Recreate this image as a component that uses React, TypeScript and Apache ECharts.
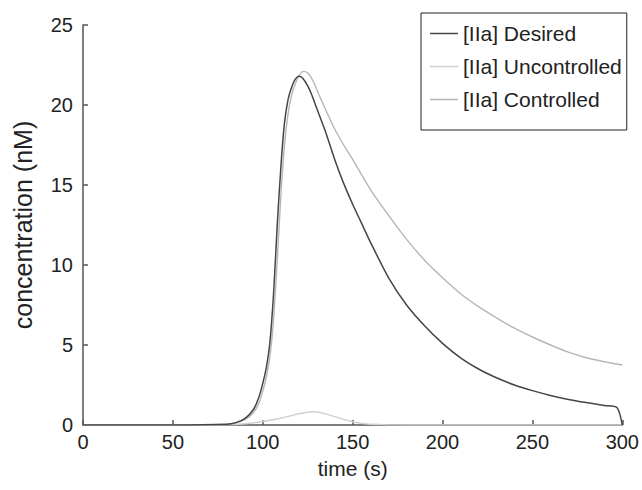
import React, { useEffect, useRef } from "react";
import * as echarts from "echarts";

// time (s) and [IIa] (nM) values
const desiredTime = [0, 50, 80, 85, 90, 95, 98, 100, 102, 104, 106, 108, 110, 112, 114, 116, 118, 120, 122, 125, 127, 130, 135, 140, 145, 150, 155, 160, 170, 180, 190, 200, 210, 220, 230, 240, 250, 260, 270, 280, 290, 297, 300];
const desiredValues = [0, 0, 0.05, 0.15, 0.4, 1.0, 1.8, 2.6, 3.6, 5.2, 8.2, 12.4, 16.0, 18.8, 20.3, 21.1, 21.6, 21.8, 21.7, 21.2, 20.7, 19.8, 18.3, 16.6, 15.1, 13.8, 12.6, 11.4, 9.2, 7.5, 6.2, 5.1, 4.2, 3.5, 2.95, 2.5, 2.15, 1.85, 1.6, 1.4, 1.22, 1.1, 0];

const uncontrolledTime = [0, 50, 80, 90, 100, 110, 115, 120, 125, 128, 131, 135, 140, 145, 150, 155, 160, 170, 180, 200, 250, 300];
const uncontrolledValues = [0, 0, 0.02, 0.08, 0.22, 0.42, 0.56, 0.7, 0.8, 0.83, 0.8, 0.7, 0.52, 0.35, 0.2, 0.1, 0.05, 0.01, 0, 0, 0, 0];

const controlledTime = [0, 50, 80, 85, 90, 95, 98, 100, 102, 104, 106, 108, 110, 112, 114, 116, 118, 120, 122.5, 125, 128, 131, 135, 140, 145, 150, 160, 170, 180, 190, 200, 210, 220, 230, 240, 250, 260, 270, 280, 290, 300];
const controlledValues = [0, 0, 0.04, 0.12, 0.33, 0.8, 1.4, 2.1, 3.0, 4.3, 6.6, 10.2, 14.2, 17.4, 19.4, 20.6, 21.3, 21.8, 22.1, 22.0, 21.5, 20.7, 19.7, 18.5, 17.5, 16.6, 14.7, 13.1, 11.6, 10.3, 9.2, 8.2, 7.4, 6.7, 6.05, 5.5, 5.0, 4.55, 4.2, 3.95, 3.75];

const seriesNames = ["[IIa] Desired", "[IIa] Uncontrolled", "[IIa] Controlled"];
const seriesColors = ["#454545", "#d0d0d0", "#b6b6b6"];

const zip = (xs: number[], ys: number[]) => xs.map((x, i) => [x, ys[i]]);

const FONT = "'Liberation Sans', Arial, Helvetica, sans-serif";

export default function App() {
  const ref = useRef<HTMLDivElement>(null);
  useEffect(() => {
    if (!ref.current) return;
    const chart = echarts.init(ref.current, null, { renderer: "svg" });
    const datasets = [
      zip(desiredTime, desiredValues),
      zip(uncontrolledTime, uncontrolledValues),
      zip(controlledTime, controlledValues),
    ];
    const axisCommon = {
      axisLine: { show: true, lineStyle: { color: "#555", width: 1.5 } },
      axisTick: { show: true, inside: true, length: 5, lineStyle: { color: "#555", width: 1.5 } },
      splitLine: { show: false },
      axisLabel: { color: "#222", fontSize: 20, fontFamily: FONT },
    };
    chart.setOption({
      animation: false,
      backgroundColor: "#fff",
      textStyle: { fontFamily: FONT },
      grid: { left: 83, top: 25, right: 19, bottom: 65, containLabel: false },
      legend: {
        orient: "vertical",
        left: 421,
        top: 13,
        data: seriesNames,
        icon: "rect",
        itemWidth: 28,
        itemHeight: 1.5,
        itemGap: 12,
        itemStyle: { borderWidth: 0 },
        padding: [10, 5, 20, 9],
        borderColor: "#222",
        borderWidth: 1,
        backgroundColor: "#fff",
        textStyle: { fontSize: 21, lineHeight: 21, color: "#222", fontFamily: FONT },
      },
      xAxis: {
        type: "value",
        min: 0,
        max: 300,
        interval: 50,
        name: "time (s)",
        nameLocation: "middle",
        nameGap: 33,
        nameTextStyle: { color: "#222", fontSize: 21, fontFamily: FONT },
        ...axisCommon,
        axisLabel: { ...axisCommon.axisLabel, margin: 7 },
      },
      yAxis: {
        type: "value",
        min: 0,
        max: 25,
        interval: 5,
        name: "concentration (nM)",
        nameLocation: "middle",
        nameGap: 48,
        nameTextStyle: { color: "#222", fontSize: 25, fontFamily: FONT },
        ...axisCommon,
        axisLabel: { ...axisCommon.axisLabel, margin: 10 },
      },
      series: seriesNames.map((name, i) => ({
        name,
        type: "line",
        data: datasets[i],
        showSymbol: false,
        symbol: "none",
        smooth: 0.25,
        color: seriesColors[i],
        lineStyle: { color: seriesColors[i], width: i === 0 ? 1.5 : 1.4 },
        z: i === 0 ? 3 : 2,
      })),
    });
    return () => chart.dispose();
  }, []);
  return <div ref={ref} style={{ position: "fixed", left: 0, top: 0, width: 642, height: 490 }} />;
}
